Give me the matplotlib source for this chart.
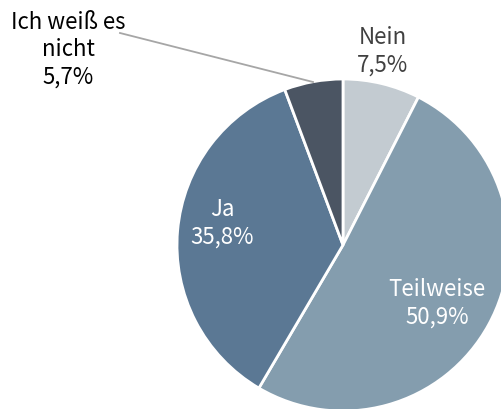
import matplotlib
matplotlib.use("Agg")
import matplotlib.pyplot as plt

categories = ["Nein", "Teilweise", "Ja", "Ich weiß es\nnicht"]
values = [7.5, 50.9, 35.8, 5.7]
pct_labels = ["7,5%", "50,9%", "35,8%", "5,7%"]
colors = ["#c3cbd1", "#849dae", "#5b7894", "#4b5563"]

plt.rcParams['font.family'] = ['Noto Sans CJK KR', 'DejaVu Sans']

fig = plt.figure(figsize=(5.02, 4.09), dpi=100)
ax = fig.add_axes([0, 0, 1, 1])
ax.set_xlim(0, 502)
ax.set_ylim(-409, 0)
ax.set_aspect('equal')
ax.axis('off')

cx, cy, r = 343, -245, 166
wedges, _ = ax.pie(values, colors=colors, startangle=90, counterclock=False,
                   center=(cx, cy), radius=r,
                   wedgeprops=dict(edgecolor='white', linewidth=2.0))
ax.set_xlim(0, 502)
ax.set_ylim(-409, 0)

fs = 16
ls = 1.25
# Nein (outside)
ax.text(383, -51, f"{categories[0]}\n{pct_labels[0]}", ha='center', va='center',
        fontsize=fs, color='#404040', linespacing=ls)
# Teilweise (inside)
ax.text(437, -303, f"{categories[1]}\n{pct_labels[1]}", ha='center', va='center',
        fontsize=fs, color='white', linespacing=ls)
# Ja (inside)
ax.text(222, -223, f"{categories[2]}\n{pct_labels[2]}", ha='center', va='center',
        fontsize=fs, color='white', linespacing=ls)
# Ich weiß es nicht (outside with leader)
ax.text(68, -50, f"{categories[3]}\n{pct_labels[3]}", ha='center', va='center',
        fontsize=fs, color='black', linespacing=ls)
ax.plot([120, 313], [-33, -82], color='#a6a6a6', linewidth=1.3)

fig.savefig("out.png", dpi=100)
